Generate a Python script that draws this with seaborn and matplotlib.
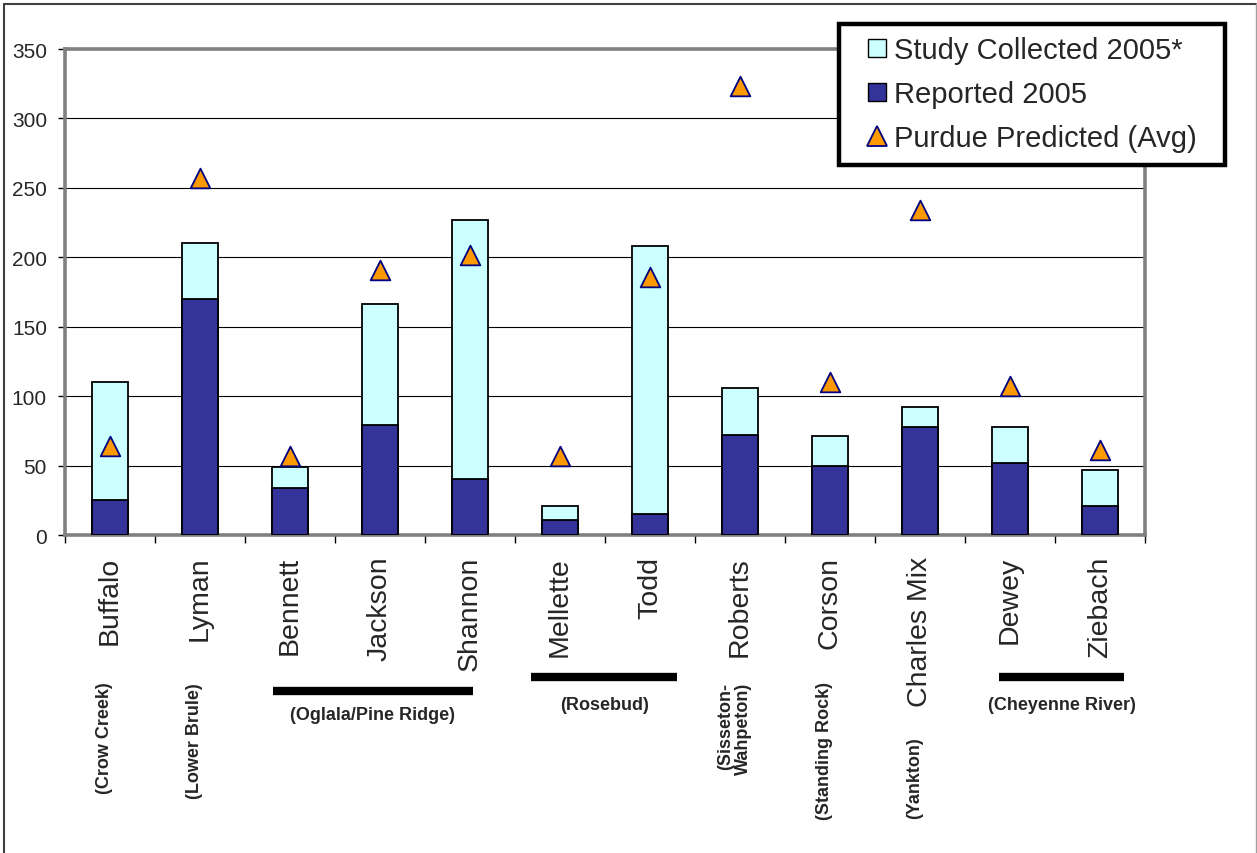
import numpy as np
import matplotlib
matplotlib.use("Agg")
import matplotlib.pyplot as plt
import matplotlib.transforms as mtransforms
from matplotlib.lines import Line2D
from matplotlib.patches import Rectangle
import seaborn as sns

# --- data -------------------------------------------------------------
counties = ["Buffalo", "Lyman", "Bennett", "Jackson", "Shannon", "Mellette",
            "Todd", "Roberts", "Corson", "Charles Mix", "Dewey", "Ziebach"]
reported_2005 = [25, 170, 34, 79, 40, 11, 15, 72, 50, 78, 52, 21]
study_collected_2005 = [85, 40, 15, 87, 187, 10, 193, 34, 21, 14, 26, 26]
purdue_predicted = [64, 257, 57, 191, 202, 57, 186, 323, 110, 234, 107, 61]

# reservation names written under single counties: (county index, text, top px)
reservations = [
    (0, "(Crow Creek)", 682),
    (1, "(Lower Brule)", 683),
    (7, "(Sisseton-\nWahpeton)", 683),
    (8, "(Standing Rock)", 682),
    (9, "(Yankton)", 737),
]
# reservations spanning several counties: (text, x start, x end, bar px, label px)
reservation_groups = [
    ("(Oglala/Pine Ridge)", 1.81, 4.03, 692, 716),
    ("(Rosebud)", 4.68, 6.30, 678, 706),
    ("(Cheyenne River)", 9.88, 11.27, 678, 706),
]

series_labels = ["Study Collected 2005*", "Reported 2005", "Purdue Predicted (Avg)"]

# --- style ------------------------------------------------------------
CYAN = "#CCFFFF"
BLUE = "#333399"
ORANGE = "#FF9900"
NAVY = "#000080"
GRAY = "#808080"

sns.set_style("white")
plt.rcParams["font.family"] = ["Liberation Sans", "DejaVu Sans"]

W, H = 1257, 854
fig = plt.figure(figsize=(W / 100, H / 100), dpi=100)
fig.patch.set_facecolor("white")
ax = fig.add_axes([65 / W, 1 - 536 / H, 1080 / W, 486 / H])

totals = [r + s for r, s in zip(reported_2005, study_collected_2005)]

sns.barplot(x=counties, y=totals, color=CYAN, saturation=1, width=0.4,
            edgecolor="black", linewidth=1.3, ax=ax, zorder=2)
sns.barplot(x=counties, y=reported_2005, color=BLUE, saturation=1, width=0.4,
            edgecolor="black", linewidth=1.3, ax=ax, zorder=3)
sns.scatterplot(x=counties, y=purdue_predicted, marker="^", s=200,
                color=ORANGE, edgecolor=NAVY, linewidth=1.3, ax=ax,
                zorder=5, legend=False)

ax.set_xlim(-0.5, len(counties) - 0.5)
ax.set_ylim(0, 350)
ax.set_yticks(np.arange(0, 351, 50))
ax.yaxis.grid(True, color="black", linewidth=0.8)
ax.xaxis.grid(False)
ax.set_axisbelow(True)
ax.set_xlabel("")
ax.set_ylabel("")

for side in ["left", "right", "top", "bottom"]:
    ax.spines[side].set_visible(True)
    ax.spines[side].set_color(GRAY)
    ax.spines[side].set_linewidth(2.6)

ax.set_xticks(range(len(counties)))
ax.set_xticklabels(counties, rotation=90, fontsize=20.5)
ax.set_xticks(np.arange(-0.5, len(counties), 1), minor=True)
ax.tick_params(axis="x", which="major", length=0, pad=15)
ax.tick_params(axis="x", which="minor", length=6, width=1, color="black",
               direction="out", bottom=True)
ax.tick_params(axis="y", which="major", length=5, width=1, color="black",
               direction="out", left=True, labelsize=15, pad=8)

# reservation names under the county names
trans = mtransforms.blended_transform_factory(ax.transData, fig.transFigure)
for idx, text, top in reservations:
    ax.text(idx - 0.06, 1 - top / H, text, transform=trans, rotation=90,
            ha="center", va="top", multialignment="right",
            fontsize=13, fontweight="bold", linespacing=1.0, clip_on=False)

for text, x0, x1, bar_y, lab_y in reservation_groups:
    ax.add_line(Line2D([x0, x1], [1 - bar_y / H] * 2, transform=trans,
                       color="black", linewidth=6, solid_capstyle="butt",
                       clip_on=False))
    ax.text((x0 + x1) / 2, 1 - lab_y / H, text, transform=trans,
            ha="center", va="center", fontsize=13, fontweight="bold",
            clip_on=False)

# legend box
box = Rectangle((839 / W, 1 - 166 / H), (1225 - 839) / W, (166 - 25) / H,
                transform=fig.transFigure, facecolor="white",
                edgecolor="black", linewidth=3.2, zorder=3)
fig.patches.append(box)

handles = [
    Line2D([], [], ls="", marker="s", markersize=13, markerfacecolor=CYAN,
           markeredgecolor="black", markeredgewidth=1),
    Line2D([], [], ls="", marker="s", markersize=13, markerfacecolor=BLUE,
           markeredgecolor="black", markeredgewidth=1),
    Line2D([], [], ls="", marker="^", markersize=14, markerfacecolor=ORANGE,
           markeredgecolor=NAVY, markeredgewidth=1.3),
]
leg = fig.legend(handles, series_labels, loc="upper left",
                 bbox_to_anchor=(862 / W, 1 - 37 / H),
                 bbox_transform=fig.transFigure, frameon=False,
                 fontsize=21, borderpad=0, borderaxespad=0,
                 handlelength=1.0, handletextpad=0.08, labelspacing=0.55)
leg.set_zorder(6)

# outer chart border
fig.add_artist(Line2D([4 / W, 4 / W], [0, 1 - 5 / H], transform=fig.transFigure,
                      color="#404040", linewidth=1.5))
fig.add_artist(Line2D([4 / W, 1256 / W], [1 - 5 / H, 1 - 5 / H],
                      transform=fig.transFigure, color="#404040", linewidth=1.5))
fig.add_artist(Line2D([1256 / W, 1256 / W], [0, 1 - 5 / H],
                      transform=fig.transFigure, color="#A0A0A0", linewidth=1))

fig.savefig("out.png", dpi=100)
